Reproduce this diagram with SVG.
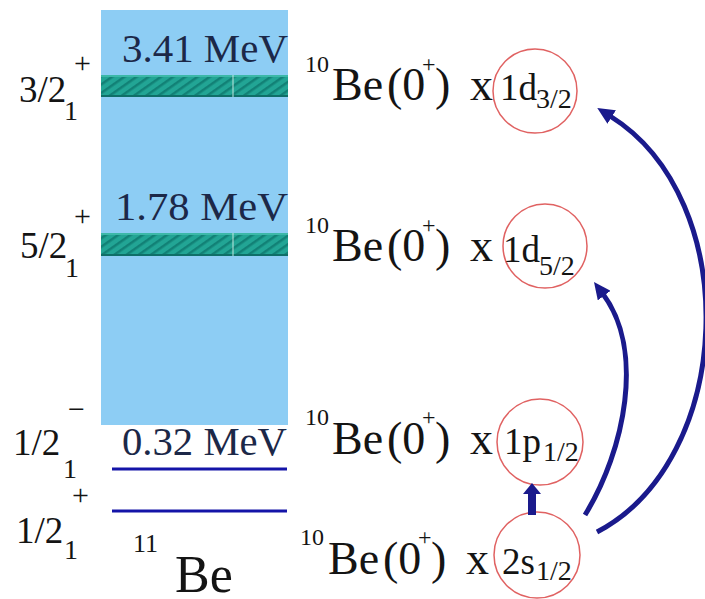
<svg xmlns="http://www.w3.org/2000/svg" width="705" height="599" viewBox="0 0 705 599">
  <defs>
    <pattern id="hatch" patternUnits="userSpaceOnUse" width="7" height="7" patternTransform="rotate(-35)">
      <rect width="7" height="7" fill="#22a595"/>
      <rect width="7" height="2.5" fill="#128176"/>
    </pattern>
    <marker id="head" markerUnits="userSpaceOnUse" markerWidth="18" markerHeight="16" refX="2" refY="8" orient="auto">
      <path d="M0,0 L17,8 L0,16 z" fill="#1a1a8c"/>
    </marker>
    <marker id="head-small" markerUnits="userSpaceOnUse" markerWidth="12" markerHeight="18" refX="1" refY="9" orient="auto">
      <path d="M0,0 L11,9 L0,18 z" fill="#1a1a8c"/>
    </marker>
  </defs>

  <g id="level-scheme">
    <rect x="101" y="10" width="187" height="415" fill="#8dcdf4"/>
    <g id="band-341">
      <rect x="101" y="75" width="187" height="22" fill="url(#hatch)"/>
      <rect x="101" y="75" width="187" height="2" fill="#3cb8a8"/>
      <rect x="101" y="95" width="187" height="2" fill="#0f6f68"/>
      <rect x="232.5" y="75" width="1" height="22" fill="#bfe8e0"/>
    </g>
    <g id="band-178">
      <rect x="101" y="233" width="187" height="23" fill="url(#hatch)"/>
      <rect x="101" y="233" width="187" height="2" fill="#3cb8a8"/>
      <rect x="101" y="254" width="187" height="2" fill="#0f6f68"/>
      <rect x="232.5" y="233" width="1" height="23" fill="#bfe8e0"/>
    </g>
    <g stroke="#1414a8" stroke-width="3">
      <line x1="112" y1="469" x2="287" y2="469"/>
      <line x1="112" y1="511" x2="287" y2="511"/>
    </g>
    <g fill="#1c2848" font-size="39">
      <text style="font-family:'Liberation Serif',serif !important" x="122" y="62" textLength="166" lengthAdjust="spacingAndGlyphs">3.41 MeV</text>
      <text style="font-family:'Liberation Serif',serif !important" x="115" y="220" textLength="173" lengthAdjust="spacingAndGlyphs">1.78 MeV</text>
      <text style="font-family:'Liberation Serif',serif !important" x="122" y="455" textLength="165" lengthAdjust="spacingAndGlyphs">0.32 MeV</text>
    </g>
    <text style="font-family:'Liberation Serif',serif !important" fill="#141414" x="133" y="552" font-size="26">11</text>
    <text style="font-family:'Liberation Serif',serif !important" fill="#141414" x="175" y="592" font-size="52">Be</text>
  </g>

  <g id="spin-labels" fill="#141414">
    <g id="j-3-2">
      <text style="font-family:'Liberation Serif',serif !important" font-size="37" x="19" y="102">3/2</text>
      <text style="font-family:'Liberation Serif',serif !important" font-size="28" x="64" y="120">1</text>
      <text style="font-family:'Liberation Serif',serif !important" font-size="30" x="74" y="73">+</text>
    </g>
    <g id="j-5-2">
      <text style="font-family:'Liberation Serif',serif !important" font-size="37" x="20" y="258">5/2</text>
      <text style="font-family:'Liberation Serif',serif !important" font-size="28" x="65" y="277">1</text>
      <text style="font-family:'Liberation Serif',serif !important" font-size="30" x="74" y="226">+</text>
    </g>
    <g id="j-1-2-minus">
      <text style="font-family:'Liberation Serif',serif !important" font-size="37" x="13" y="455">1/2</text>
      <text style="font-family:'Liberation Serif',serif !important" font-size="28" x="63" y="478">1</text>
      <text style="font-family:'Liberation Serif',serif !important" font-size="30" x="68" y="419">−</text>
    </g>
    <g id="j-1-2-plus">
      <text style="font-family:'Liberation Serif',serif !important" font-size="37" x="16" y="543">1/2</text>
      <text style="font-family:'Liberation Serif',serif !important" font-size="28" x="64" y="559">1</text>
      <text style="font-family:'Liberation Serif',serif !important" font-size="30" x="72" y="505">+</text>
    </g>
  </g>

  <g id="config-1d32" fill="#141414">
    <text style="font-family:'Liberation Serif',serif !important" font-size="24" x="305" y="72">10</text>
    <text style="font-family:'Liberation Serif',serif !important" font-size="46" x="332" y="100">Be</text>
    <text style="font-family:'Liberation Serif',serif !important" font-size="46" x="387" y="100">(0</text>
    <text style="font-family:'Liberation Serif',serif !important" font-size="24" x="422" y="72">+</text>
    <text style="font-family:'Liberation Serif',serif !important" font-size="46" x="435" y="100">)</text>
    <text style="font-family:'Liberation Serif',serif !important" font-size="46" x="470" y="100">x</text>
    <circle cx="535" cy="91" r="42" fill="none" stroke="#e06262" stroke-width="1.5"/>
    <text style="font-family:'Liberation Serif',serif !important" font-size="37" x="500" y="100">1d</text>
    <text style="font-family:'Liberation Serif',serif !important" font-size="28" x="536" y="108">3/2</text>
  </g>

  <g id="config-1d52" fill="#141414">
    <text style="font-family:'Liberation Serif',serif !important" font-size="24" x="305" y="233">10</text>
    <text style="font-family:'Liberation Serif',serif !important" font-size="46" x="332" y="261">Be</text>
    <text style="font-family:'Liberation Serif',serif !important" font-size="46" x="387" y="261">(0</text>
    <text style="font-family:'Liberation Serif',serif !important" font-size="24" x="422" y="233">+</text>
    <text style="font-family:'Liberation Serif',serif !important" font-size="46" x="435" y="261">)</text>
    <text style="font-family:'Liberation Serif',serif !important" font-size="46" x="470" y="261">x</text>
    <circle cx="545" cy="246" r="42" fill="none" stroke="#e06262" stroke-width="1.5"/>
    <text style="font-family:'Liberation Serif',serif !important" font-size="37" x="503" y="262">1d</text>
    <text style="font-family:'Liberation Serif',serif !important" font-size="28" x="539" y="275">5/2</text>
  </g>

  <g id="config-1p12" fill="#141414">
    <text style="font-family:'Liberation Serif',serif !important" font-size="24" x="305" y="425">10</text>
    <text style="font-family:'Liberation Serif',serif !important" font-size="46" x="332" y="454">Be</text>
    <text style="font-family:'Liberation Serif',serif !important" font-size="46" x="387" y="454">(0</text>
    <text style="font-family:'Liberation Serif',serif !important" font-size="24" x="422" y="425">+</text>
    <text style="font-family:'Liberation Serif',serif !important" font-size="46" x="435" y="454">)</text>
    <text style="font-family:'Liberation Serif',serif !important" font-size="46" x="470" y="454">x</text>
    <circle cx="540" cy="442" r="43" fill="none" stroke="#e06262" stroke-width="1.5"/>
    <text style="font-family:'Liberation Serif',serif !important" font-size="37" x="504" y="454">1p</text>
    <text style="font-family:'Liberation Serif',serif !important" font-size="28" x="543" y="461">1/2</text>
  </g>

  <g id="config-2s12" fill="#141414">
    <text style="font-family:'Liberation Serif',serif !important" font-size="24" x="300" y="545">10</text>
    <text style="font-family:'Liberation Serif',serif !important" font-size="46" x="328" y="574">Be</text>
    <text style="font-family:'Liberation Serif',serif !important" font-size="46" x="383" y="574">(0</text>
    <text style="font-family:'Liberation Serif',serif !important" font-size="24" x="418" y="545">+</text>
    <text style="font-family:'Liberation Serif',serif !important" font-size="46" x="431" y="574">)</text>
    <text style="font-family:'Liberation Serif',serif !important" font-size="46" x="466" y="574">x</text>
    <circle cx="537" cy="555" r="43" fill="none" stroke="#e06262" stroke-width="1.5"/>
    <text style="font-family:'Liberation Serif',serif !important" font-size="37" x="502" y="574">2s</text>
    <text style="font-family:'Liberation Serif',serif !important" font-size="28" x="536" y="580">1/2</text>
  </g>

  <g id="connectors" stroke="#1a1a8c" fill="none">
    <line x1="532" y1="515" x2="532" y2="493" stroke-width="8" marker-end="url(#head-small)"/>
    <path d="M585,515 C625,450 645,350 603,294" stroke-width="5" marker-end="url(#head)"/>
    <path d="M597,532 C735,460 745,200 610,116" stroke-width="5" marker-end="url(#head)"/>
  </g>
</svg>
